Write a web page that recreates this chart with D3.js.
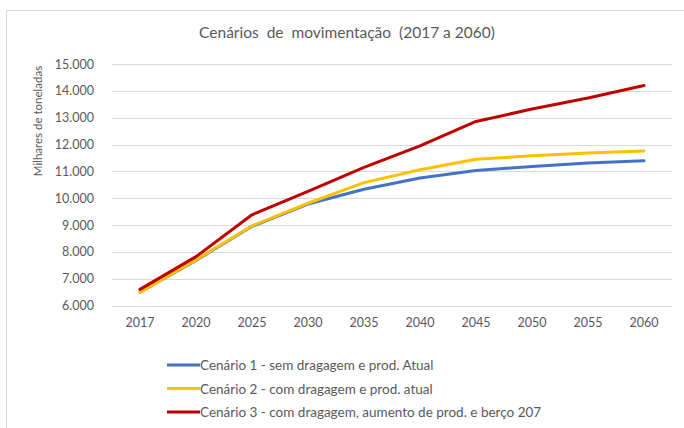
<!DOCTYPE html>
<html>
<head>
<meta charset="utf-8">
<script src="https://cdn.jsdelivr.net/npm/d3@7"></script>
<style>
  html, body { margin: 0; padding: 0; background: #fff; }
  svg { display: block; font-family: Lato, "Open Sans", sans-serif; }
</style>
</head>
<body>
<svg id="chart" width="684" height="428"></svg>
<script>
const years = ["2017", "2020", "2025", "2030", "2035", "2040", "2045", "2050", "2055", "2060"];
const cenario1 = [6500, 7680, 8950, 9780, 10330, 10750, 11030, 11180, 11310, 11390];
const cenario2 = [6500, 7700, 8970, 9810, 10580, 11060, 11450, 11580, 11680, 11760];
const cenario3 = [6600, 7820, 9380, 10250, 11150, 11950, 12860, 13320, 13730, 14200];
const seriesNames = [
  "Cenário 1 - sem dragagem e prod. Atual",
  "Cenário 2 - com dragagem e prod. atual",
  "Cenário 3 - com dragagem, aumento de prod. e berço 207"
];
const colors = ["#4472c4", "#ffc000", "#c00000"];
const yTicks = [6000, 7000, 8000, 9000, 10000, 11000, 12000, 13000, 14000, 15000];

const series = [cenario1, cenario2, cenario3].map((v, i) => ({ name: seriesNames[i], color: colors[i], values: v }));

const svg = d3.select("#chart");
const textColor = "#595959";

// chart border
svg.append("rect")
  .attr("x", 6.5).attr("y", 10.5)
  .attr("width", 700).attr("height", 440)
  .attr("fill", "none").attr("stroke", "#d9d9d9");

const x = d3.scaleBand().domain(years).range([112, 672]);
const y = d3.scaleLinear().domain([6000, 15000]).range([305.5, 64]);

// gridlines
svg.append("g")
  .selectAll("line")
  .data(yTicks)
  .join("line")
  .attr("x1", 112).attr("x2", 672)
  .attr("y1", d => Math.round(y(d)) + 0.5)
  .attr("y2", d => Math.round(y(d)) + 0.5)
  .attr("stroke", "#d9d9d9");

const fmt = d => d3.format(",")(d).replace(/,/g, ".");

// y axis labels
svg.append("g")
  .attr("transform", "translate(94,0)")
  .call(d3.axisLeft(y).tickValues(yTicks).tickFormat(fmt).tickSize(0).tickPadding(0))
  .call(g => g.select(".domain").remove())
  .call(g => g.selectAll("text")
    .attr("fill", textColor)
    .attr("font-size", 12.5)
    .attr("font-family", "Lato, sans-serif"));

// x axis labels
svg.append("g")
  .attr("transform", "translate(0,318)")
  .call(d3.axisBottom(x).tickSize(0).tickPadding(0))
  .call(g => g.select(".domain").remove())
  .call(g => g.selectAll("text")
    .attr("fill", textColor)
    .attr("font-size", 12.5)
    .attr("font-family", "Lato, sans-serif"));

// lines
const line = d3.line()
  .x((d, i) => x(years[i]) + x.bandwidth() / 2)
  .y(d => y(d));

svg.append("g")
  .selectAll("path")
  .data(series)
  .join("path")
  .attr("d", d => line(d.values))
  .attr("fill", "none")
  .attr("stroke", d => d.color)
  .attr("stroke-width", 3)
  .attr("stroke-linejoin", "round")
  .attr("stroke-linecap", "round");

// title
svg.append("text")
  .attr("x", 347).attr("y", 38)
  .attr("text-anchor", "middle")
  .attr("fill", textColor)
  .attr("font-size", 15.5)
  .style("white-space", "pre")
  .text("Cenários  de  movimentação  (2017 a 2060)");

// y axis title
svg.append("text")
  .attr("transform", "translate(42,121) rotate(-90)")
  .attr("text-anchor", "middle")
  .attr("fill", textColor)
  .attr("font-size", 11.5)
  .text("Milhares de toneladas");

// legend
const legend = svg.append("g")
  .selectAll("g")
  .data(series)
  .join("g")
  .attr("transform", (d, i) => `translate(167,${365 + i * 23.5})`);

legend.append("line")
  .attr("x1", 0).attr("x2", 33)
  .attr("stroke", d => d.color)
  .attr("stroke-width", 3);

legend.append("text")
  .attr("x", 33).attr("y", 5)
  .attr("fill", textColor)
  .attr("font-size", 13.5)
  .text(d => d.name);
</script>
</body>
</html>
